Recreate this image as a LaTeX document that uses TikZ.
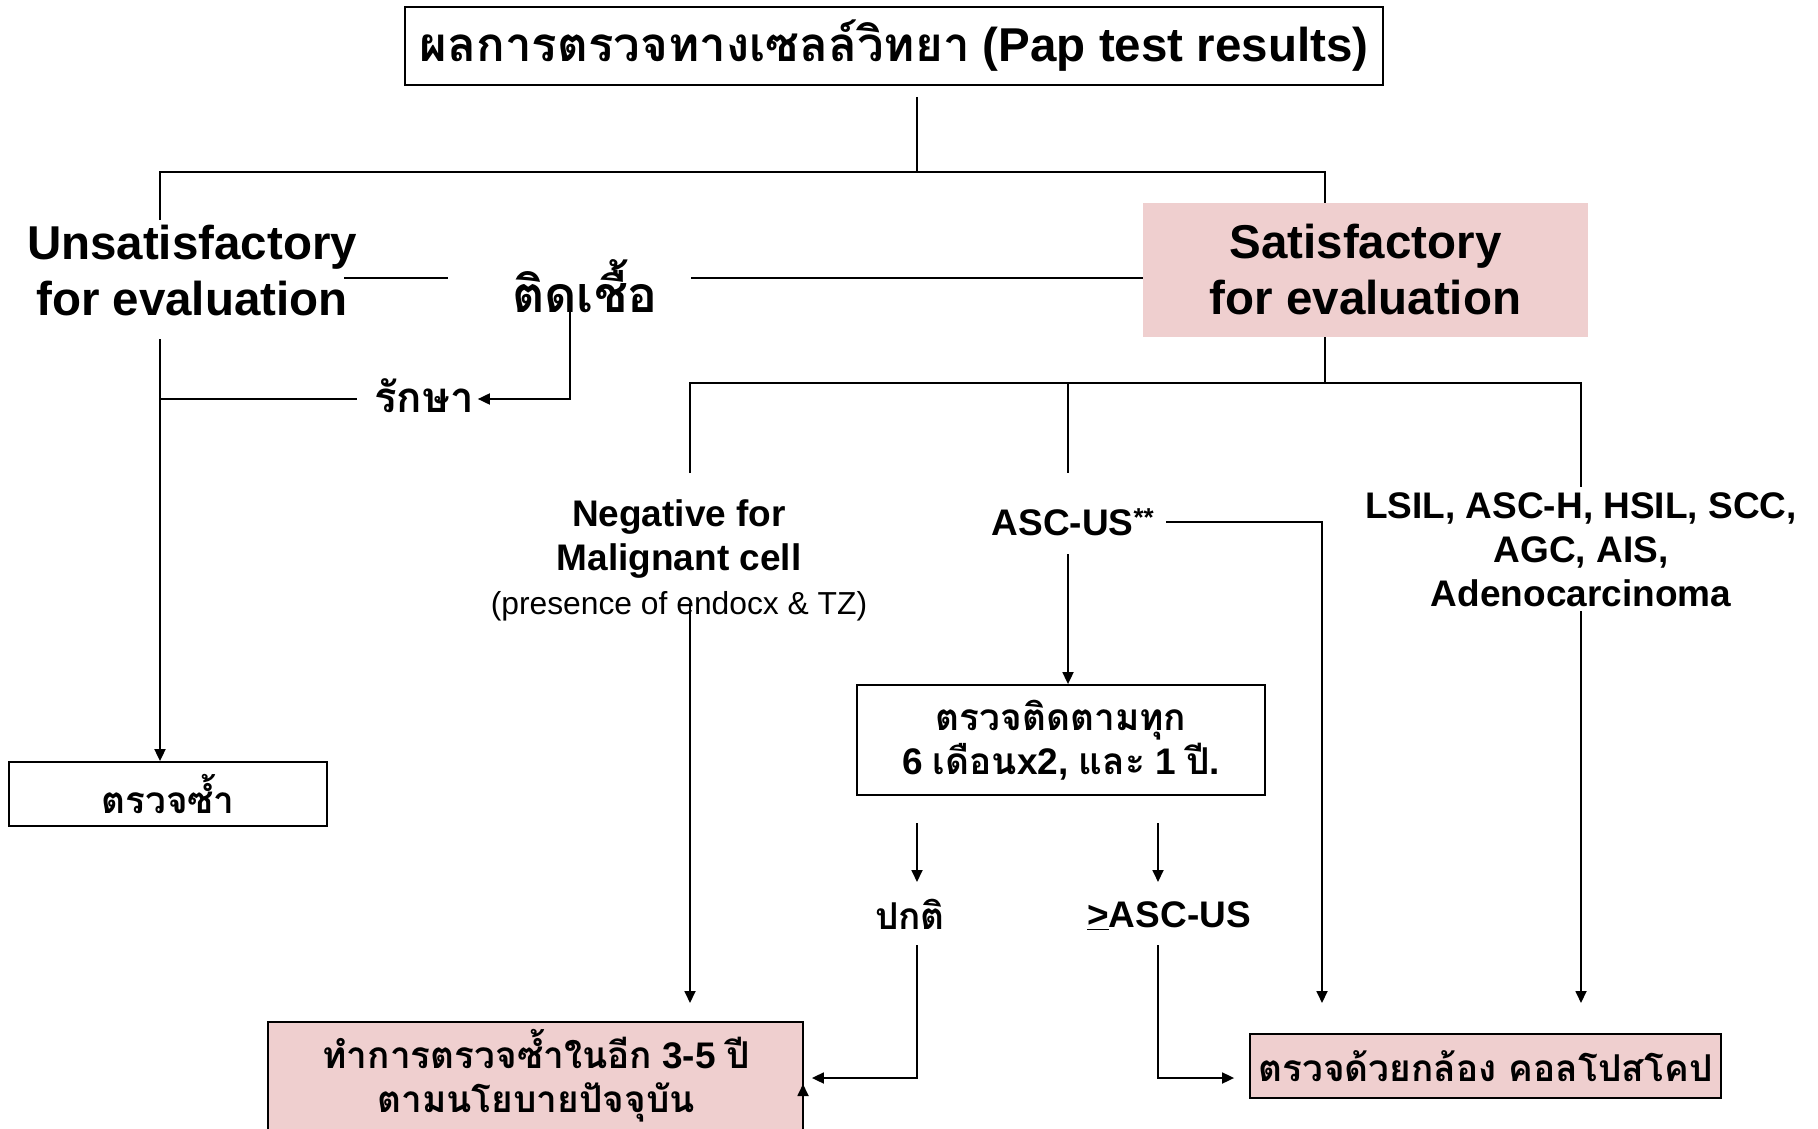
\documentclass[tikz,border=0pt]{standalone}
\usepackage{fontspec}
\setmainfont{Liberation Sans}
\newfontfamily\thaifont[Script=Thai]{Loma}
\usetikzlibrary{arrows.meta}
\definecolor{rosefill}{HTML}{EFCFCF}
\newcommand{\fbig}{\fontsize{47.5}{56}\selectfont\bfseries}
\newcommand{\fmid}{\fontsize{37}{44}\selectfont\bfseries}
\newcommand{\fsm}{\fontsize{31.8}{43}\selectfont\mdseries}
\newcommand{\tb}[1]{{\thaifont\bfseries #1}}
\begin{document}
\begin{tikzpicture}[x=1pt,y={(0pt,-1pt)},
  conn/.style={line width=1.8pt},
  arr/.style={line width=1.8pt,-{Triangle[length=12pt,width=11pt]}},
  boxed/.style={draw,line width=1.8pt,inner sep=0pt,align=center},
  txt/.style={inner sep=0pt,align=center}]
\useasboundingbox (0,0) rectangle (1818,1129);
\fill[white] (0,0) rectangle (1818,1129);

% --- nodes ---
\node[boxed,font=\fbig,minimum width=978pt,minimum height=78pt] (title) at (894,46)
  {\tb{ผลการตรวจทางเซลล์วิทยา} (Pap test results)};
\node[txt,font=\fbig] (unsat) at (192,271) {Unsatisfactory\\for evaluation};
\node[txt,font=\fbig,fill=rosefill,minimum width=445pt,minimum height=134pt] (sat) at (1365.5,270)
  {Satisfactory\\for evaluation};
\node[txt,font=\fbig] (infect) at (585,286) {\fontsize{50}{56}\selectfont\tb{ติดเชื้อ}};
\node[txt,font=\fmid] (treat) at (424,396) {\fontsize{42}{48}\selectfont\tb{รักษา}};
\node[boxed,font=\fmid,minimum width=318pt,minimum height=64pt] (recheck) at (168,794)
  {\tb{ตรวจซ้ำ}};
\node[txt,font=\fmid] (neg) at (679,560)
  {Negative for\\Malignant cell\\\fsm (presence of endocx \& TZ)};
\node[txt,font=\fmid] (ascus) at (1073,522) {ASC-US\textsuperscript{**}};
\node[txt,font=\fmid] (lsil) at (1581,550)
  {LSIL, ASC-H, HSIL, SCC,\\AGC, AIS,\\Adenocarcinoma};
\node[boxed,font=\fontsize{37}{44}\selectfont\bfseries,minimum width=408pt,minimum height=110pt] (follow) at (1061,740)
  {\tb{ตรวจติดตามทุก}\\6 \tb{เดือน}x2, \tb{และ} 1 \tb{ปี}.};
\node[txt,font=\fmid] (normal) at (910,914) {\tb{ปกติ}};
\node[txt,font=\fmid] (worse) at (1169,916) {\underline{>}ASC-US};
\node[boxed,fill=rosefill,minimum width=535pt,minimum height=170pt,anchor=north] (repeat) at (535.5,1021) {};
\node[txt,font=\fmid] (repeattxt) at (536,1076)
  {\tb{ทำการตรวจซ้ำในอีก} 3-5 \tb{ปี}\\\tb{ตามนโยบายปัจจุบัน}};
\node[boxed,font=\fmid,fill=rosefill,minimum width=471pt,minimum height=64pt] (colpo) at (1485.5,1066)
  {\tb{ตรวจด้วยกล้อง คอลโปสโคป}};

% --- junction points ---
\coordinate (t0) at (917,97);
\coordinate (t1) at (917,172);
\coordinate (tl) at (160,172);
\coordinate (tr) at (1325,172);
\coordinate (ul) at (160,220);
\coordinate (ub) at (160,339);
\coordinate (ubr) at (160,399);
\coordinate (trl) at (357,399);
\coordinate (ue) at (344,278);
\coordinate (il) at (448,278);
\coordinate (ir) at (691,278);
\coordinate (id) at (570,307);
\coordinate (s1) at (1325,383);
\coordinate (hl) at (690,383);
\coordinate (hm) at (1068,383);
\coordinate (hr) at (1581,383);
\coordinate (nl) at (690,473);
\coordinate (nm) at (1068,473);
\coordinate (nr) at (1581,487);
\coordinate (nb) at (690,603);
\coordinate (ne) at (690,1003);
\coordinate (ar0) at (1166,522);
\coordinate (ar1) at (1322,522);
\coordinate (ae) at (1322,1003);
\coordinate (ad) at (1068,554);
\coordinate (lb) at (1581,611);
\coordinate (le) at (1581,1003);
\coordinate (f1) at (917,823);
\coordinate (f1e) at (917,882);
\coordinate (f2) at (1158,823);
\coordinate (f2e) at (1158,882);
\coordinate (p1) at (917,945);
\coordinate (g1) at (1158,945);
\coordinate (rb) at (803,1140);
\coordinate (rt) at (803,1084);

% --- connectors ---
\draw[conn] (t0) -- (t1);
\draw[conn] (ul) -- (tl) -- (tr) -- (sat.north -| tr);
\draw[conn] (ue) -- (il);
\draw[conn] (ir) -- (sat.west |- ir);
\draw[arr] (id) |- ([xshift=4pt]treat.east |- 0,399);
\draw[conn] (ubr) -- (trl);
\draw[arr] (ub) -- (recheck.north -| ub);
\draw[conn] (sat.south -| s1) -- (s1);
\draw[conn] (nl) -- (hl) -- (hr) -- (nr);
\draw[conn] (hm) -- (nm);
\draw[arr] (nb) -- (ne);
\draw[arr] (ad) -- (follow.north -| ad);
\draw[arr] (ar0) -- (ar1) -- (ae);
\draw[arr] (lb) -- (le);
\draw[arr] (f1) -- (f1e);
\draw[arr] (f2) -- (f2e);
\draw[arr] (p1) |- ([xshift=8pt]repeat.east |- 0,1078);
\draw[arr] (g1) |- ([xshift=-15pt]colpo.west |- 0,1078);
\draw[arr] (rb) -- (rt);
\end{tikzpicture}
\end{document}
